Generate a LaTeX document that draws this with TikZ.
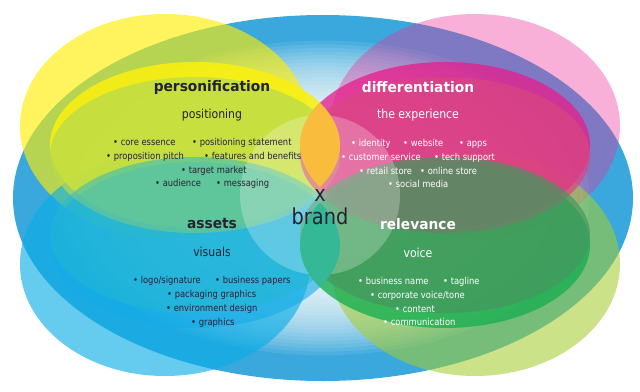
\documentclass[tikz,border=0pt]{standalone}
\usepackage{fontspec}
\setmainfont{DejaVu Sans}[FakeStretch=0.88]
\newfontfamily\titlefont{DejaVu Sans}[FakeStretch=0.95]
\definecolor{bblue}{RGB}{58,168,220}
\definecolor{cYO}{RGB}{255,238,0}
\definecolor{cPO}{RGB}{237,47,153}
\definecolor{cBO}{RGB}{8,173,230}
\definecolor{cGO}{RGB}{167,205,49}
\definecolor{cYB}{RGB}{250,240,15}
\definecolor{cPB}{RGB}{230,30,140}
\definecolor{cBB}{RGB}{20,172,232}
\definecolor{cGB}{RGB}{26,175,82}
\definecolor{cYM}{RGB}{180,218,80}
\definecolor{cPM}{RGB}{217,70,128}
\definecolor{cBM}{RGB}{35,184,208}
\definecolor{cGM}{RGB}{70,150,95}
\definecolor{lensO}{RGB}{250,188,60}
\definecolor{lensG}{RGB}{52,184,150}
\definecolor{dk}{RGB}{38,34,52}
\def\eYO{(165,126) ellipse [x radius=145pt, y radius=112pt]}
\def\ePO{(475,126) ellipse [x radius=145pt, y radius=112pt]}
\def\eBO{(165,264) ellipse [x radius=145pt, y radius=112pt]}
\def\eGO{(475,264) ellipse [x radius=145pt, y radius=112pt]}
\def\eYB{(195,145) ellipse [x radius=145pt, y radius=83pt]}
\def\ePB{(445,145) ellipse [x radius=145pt, y radius=83pt]}
\def\eBB{(195,245) ellipse [x radius=145pt, y radius=83pt]}
\def\eGB{(445,245) ellipse [x radius=145pt, y radius=83pt]}
\def\eYM{(195,155) ellipse [x radius=145pt, y radius=78pt]}
\def\ePM{(445,155) ellipse [x radius=145pt, y radius=78pt]}
\def\eBM{(195,235) ellipse [x radius=145pt, y radius=78pt]}
\def\eGM{(445,235) ellipse [x radius=145pt, y radius=78pt]}
\tikzset{
  bl/.style={anchor=mid west, inner sep=0pt, font=\fontsize{9.5}{11}\selectfont},
  dkt/.style={text=dk},
  wht/.style={text=white},
  ttl/.style={inner sep=0pt, font=\titlefont\bfseries\fontsize{14.5}{16}\selectfont},
  sub/.style={inner sep=0pt, font=\fontsize{12.4}{14}\selectfont},
  brandtxt/.style={inner sep=0pt, text=dk, font=\fontsize{22}{24}\selectfont}
}
\begin{document}
\begin{tikzpicture}[x=1pt,y=-1pt]
\useasboundingbox (0,0) rectangle (640,391);
\fill[white] (0,0) rectangle (640,391);
% background ellipse with white centre
\fill[bblue] (323,198) ellipse [x radius=310pt, y radius=183pt];
\foreach \s in {0.86,0.84,...,0.29}
  \fill[white, fill opacity=.09] (323,198) ellipse [x radius=\s*310pt, y radius=\s*183pt];
% outer ellipses
\fill[cYO, fill opacity=.63] \eYO;
\fill[cPO, fill opacity=.38] \ePO;
\fill[cBO, fill opacity=.62] \eBO;
\fill[cGO, fill opacity=.57] \eGO;
% band ellipses
\fill[cYB, fill opacity=.87] \eYB;
\fill[cPB, fill opacity=.77] \ePB;
\fill[cBB, fill opacity=.6] \eBB;
\fill[cGB, fill opacity=.8] \eGB;
% main ellipses
\fill[cYM, fill opacity=.7] \eYM;
\fill[cPM, fill opacity=.7] \ePM;
\fill[cBM, fill opacity=.5] \eBM;
\fill[cGM, fill opacity=.7] \eGM;
% centre circle
\fill[white, fill opacity=.25] (320,195) circle [radius=80pt];
% lenses
\begin{scope}
  \clip \eYB;
  \fill[lensO] \ePB;
\end{scope}
\begin{scope}
  \clip \eBB;
  \fill[lensG] \eGB;
\end{scope}
% centre text
\node[brandtxt] (x) at (320,195) {x};
\node[brandtxt] (brand) at (320,216) {brand};
% personification
\node[ttl, dkt] (pers) at (212,87) {personification};
\node[sub, dkt] (posi) at (212,115) {positioning};
\node[bl, dkt] (y1a) at (113,143) {• core essence};
\node[bl, dkt] (y1b) at (192,143) {• positioning statement};
\node[bl, dkt] (y2a) at (106,157) {• proposition pitch};
\node[bl, dkt] (y2b) at (204,157) {• features and benefits};
\node[bl, dkt] (y3) at (181,171) {• target market};
\node[bl, dkt] (y4a) at (155,184) {• audience};
\node[bl, dkt] (y4b) at (216,184) {• messaging};
% differentiation
\node[ttl, wht] (diff) at (418,87) {differentiation};
\node[sub, wht] (expe) at (418,115) {the experience};
\node[bl, wht] (p1a) at (351,144) {• identity};
\node[bl, wht] (p1b) at (403,144) {• website};
\node[bl, wht] (p1c) at (459,144) {• apps};
\node[bl, wht] (p2a) at (341,158) {• customer service};
\node[bl, wht] (p2b) at (434,158) {• tech support};
\node[bl, wht] (p3a) at (359,172) {• retail store};
\node[bl, wht] (p3b) at (420,172) {• online store};
\node[bl, wht] (p4) at (388,185) {• social media};
% assets
\node[ttl, dkt] (asse) at (212,224) {assets};
\node[sub, dkt] (visu) at (212,252) {visuals};
\node[bl, dkt] (b1a) at (133,281) {• logo/signature};
\node[bl, dkt] (b1b) at (215,281) {• business papers};
\node[bl, dkt] (b2) at (167,295) {• packaging graphics};
\node[bl, dkt] (b3) at (166,309) {• environment design};
\node[bl, dkt] (b4) at (191,323) {• graphics};
% relevance
\node[ttl, wht] (rele) at (418,224) {relevance};
\node[sub, wht] (voic) at (418,253) {voice};
\node[bl, wht] (g1a) at (358,282) {• business name};
\node[bl, wht] (g1b) at (443,282) {• tagline};
\node[bl, wht] (g2) at (370,296) {• corporate voice/tone};
\node[bl, wht] (g3) at (395,310) {• content};
\node[bl, wht] (g4) at (383,323) {• communication};
\end{tikzpicture}
\end{document}
